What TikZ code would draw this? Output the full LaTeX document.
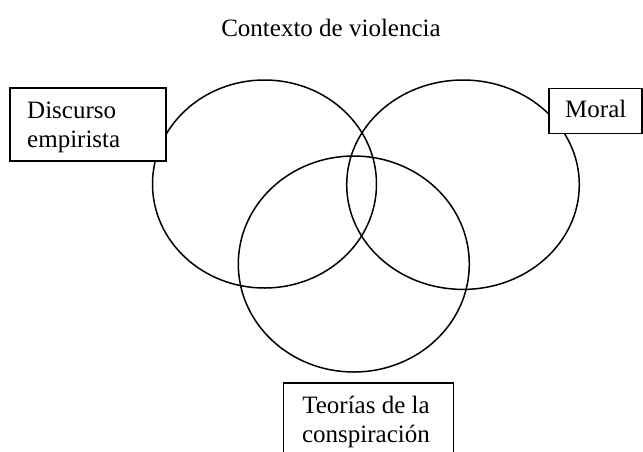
\documentclass[tikz,border=0pt]{standalone}
\usepackage{fontspec}
\setmainfont{Liberation Serif}
\begin{document}
\begin{tikzpicture}[x=1pt,y=-1pt,
  ring/.style={draw=black,line width=1.5pt},
  boxshape/.style={draw=black,line width=1.5pt,fill=white,rectangle,inner sep=0pt,anchor=north west},
  lbl/.style={inner sep=0pt,font=\fontsize{25}{28.5}\selectfont,align=left}]
\useasboundingbox (0,0) rectangle (643,451);
\clip (0,0) rectangle (643,451);
\node[lbl,anchor=base] (title) at (331,36.5) {Contexto de violencia};
\draw[ring] (264.5,184) ellipse [x radius=112pt, y radius=104pt];
\draw[ring] (463,184.7) ellipse [x radius=116.3pt, y radius=104.7pt];
\draw[ring] (353.8,264) ellipse [x radius=115.5pt, y radius=108pt];
\node[boxshape,minimum width=156pt,minimum height=73pt] (dbox) at (9,87) {};
\node[lbl,anchor=base west] (dtext) at (27,147) {Discurso\\empirista};
\node[boxshape,minimum width=93pt,minimum height=45pt] (mbox) at (548,87.5) {};
\node[lbl,anchor=base west] (mtext) at (565,117) {Moral};
\node[boxshape,minimum width=170pt,minimum height=90pt] (tbox) at (282.5,382) {};
\node[lbl,anchor=base,align=center] (ttext) at (366,442) {Teorías de la\\conspiración};
\end{tikzpicture}
\end{document}
